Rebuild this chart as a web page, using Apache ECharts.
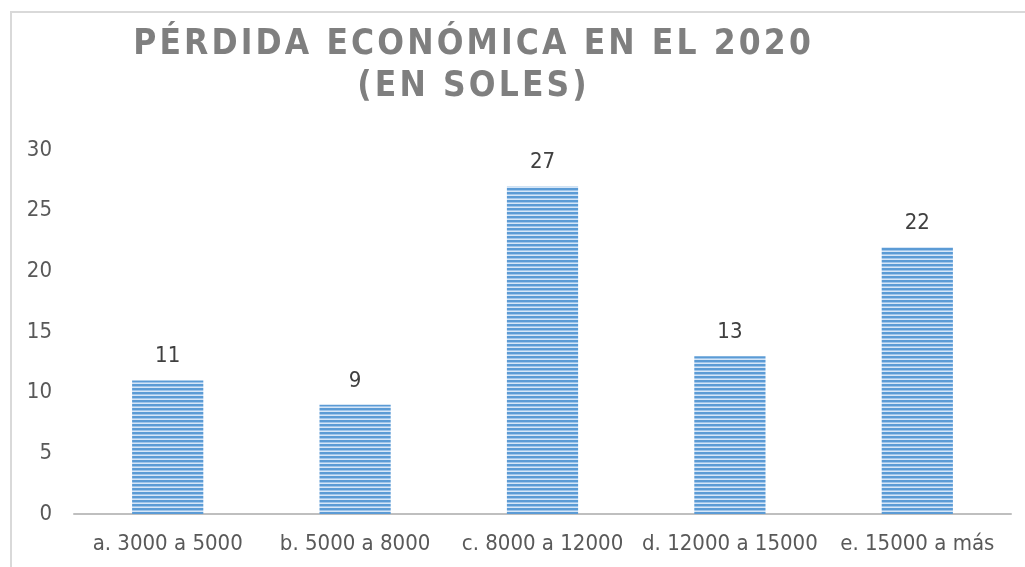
<!DOCTYPE html>
<html>
<head>
<meta charset="utf-8">
<script src="https://cdn.jsdelivr.net/npm/echarts@6/dist/echarts.min.js"></script>
<style>
body{margin:0;background:#fff;}
#chart{width:1025px;height:567px;}
</style>
</head>
<body>
<div id="chart"></div>
<script>
const categories = ['a. 3000 a 5000', 'b. 5000 a 8000', 'c. 8000 a 12000', 'd. 12000 a 15000', 'e. 15000 a más'];
const values = [11, 9, 27, 13, 22];
const yTicks = [0, 5, 10, 15, 20, 25, 30];

const FONT = '"DejaVu Sans Condensed", sans-serif';

// stripes like the office pattern fill
function stripes(){
  const c = document.createElement('canvas');
  c.width = 8; c.height = 4;
  const ctx = c.getContext('2d');
  ctx.fillStyle = '#5b9bd5'; ctx.fillRect(0,0,8,2);
  ctx.fillStyle = '#9fc5ea'; ctx.fillRect(0,2,8,1);
  ctx.fillStyle = '#d6e6f7'; ctx.fillRect(0,3,8,1);
  return c;
}
// spread letters out
function spaced(s){
  return s.split('').join('\u200a');
}

let chart = echarts.init(document.getElementById('chart'));
chart.setOption({
  animation:false,
  title:{
    text: spaced('PÉRDIDA ECONÓMICA EN EL 2020') + '\n' + spaced('(EN SOLES)'),
    left:467, top:19, textAlign:'center',
    textStyle:{fontFamily:FONT, fontSize:35, fontWeight:'bold', color:'#7f7f7f', lineHeight:42}
  },
  graphic:[{
    type:'polyline',
    shape:{points:[[11,567],[11,12],[1025,12]]},
    style:{stroke:'#d9d9d9', lineWidth:2, fill:null}
  }],
  grid:{left:74, right:14, top:150, bottom:53},
  xAxis:{
    type:'category', data:categories,
    axisLine:{lineStyle:{color:'#bfbfbf', width:2}},
    axisTick:{show:false},
    axisLabel:{fontFamily:FONT, fontSize:22, color:'#595959', margin:19, interval:0}
  },
  yAxis:{
    type:'value', min:yTicks[0], max:yTicks[yTicks.length-1], interval:5,
    splitLine:{show:false}, axisLine:{show:false}, axisTick:{show:false},
    axisLabel:{fontFamily:FONT, fontSize:22, color:'#595959', margin:22}
  },
  series:[{
    type:'bar', data:values, barWidth:'38%',
    itemStyle:{color:{image:stripes(), repeat:'repeat'}},
    label:{show:true, position:'top', distance:13, fontFamily:FONT, fontSize:22, color:'#404040'}
  }]
});
</script>
</body>
</html>
